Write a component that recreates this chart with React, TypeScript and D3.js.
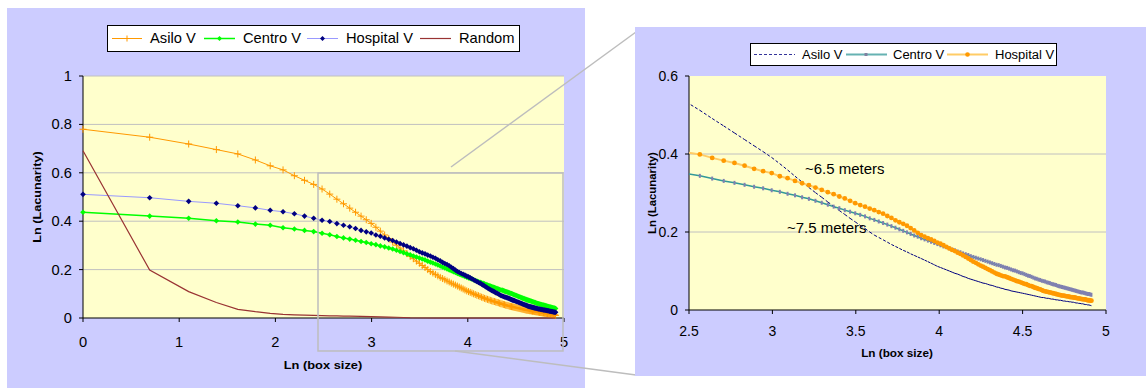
import React from "react";
import * as d3 from "d3";

// box sizes (categories); x = ln(box size)
const boxSizes: number[] = d3.range(1, 137);

const asiloV = [
  0.780,0.747,0.719,0.696,0.678,0.653,0.629,0.612,0.588,0.569,
  0.552,0.533,0.512,0.491,0.472,0.454,0.437,0.421,0.406,0.391,
  0.375,0.359,0.343,0.328,0.314,0.301,0.289,0.277,0.266,0.255,
  0.245,0.235,0.226,0.217,0.209,0.200,0.192,0.186,0.180,0.174,
  0.168,0.163,0.158,0.153,0.149,0.144,0.140,0.136,0.132,0.128,
  0.124,0.120,0.116,0.112,0.109,0.106,0.103,0.100,0.097,0.094,
  0.092,0.089,0.086,0.084,0.081,0.079,0.077,0.075,0.073,0.071,
  0.069,0.068,0.066,0.064,0.063,0.061,0.059,0.058,0.056,0.055,
  0.053,0.052,0.051,0.049,0.048,0.047,0.046,0.045,0.044,0.043,
  0.042,0.041,0.040,0.039,0.038,0.037,0.036,0.035,0.034,0.033,
  0.032,0.032,0.031,0.030,0.030,0.029,0.028,0.028,0.027,0.026,
  0.026,0.025,0.025,0.024,0.023,0.023,0.022,0.022,0.021,0.021,
  0.020,0.020,0.019,0.018,0.018,0.017,0.017,0.016,0.016,0.015,
  0.014,0.014,0.013,0.013,0.012,0.011,
];

const centroV = [
  0.437,0.421,0.412,0.402,0.397,0.388,0.383,0.373,0.368,0.362,
  0.357,0.350,0.344,0.337,0.331,0.326,0.321,0.316,0.312,0.307,
  0.303,0.298,0.294,0.289,0.285,0.280,0.275,0.270,0.265,0.261,
  0.256,0.252,0.248,0.244,0.240,0.235,0.231,0.227,0.223,0.219,
  0.215,0.211,0.207,0.203,0.199,0.195,0.191,0.188,0.184,0.181,
  0.178,0.175,0.172,0.169,0.166,0.163,0.161,0.158,0.155,0.153,
  0.150,0.148,0.145,0.143,0.141,0.138,0.136,0.134,0.132,0.130,
  0.128,0.126,0.124,0.122,0.120,0.118,0.116,0.115,0.113,0.111,
  0.109,0.108,0.106,0.104,0.102,0.101,0.099,0.097,0.095,0.094,
  0.092,0.090,0.088,0.087,0.085,0.083,0.081,0.080,0.078,0.077,
  0.075,0.074,0.073,0.071,0.070,0.069,0.067,0.066,0.065,0.064,
  0.062,0.061,0.060,0.059,0.058,0.057,0.056,0.055,0.054,0.053,
  0.052,0.051,0.050,0.049,0.048,0.047,0.046,0.045,0.045,0.044,
  0.043,0.042,0.041,0.041,0.040,0.039,
];

const hospitalV = [
  0.511,0.497,0.482,0.474,0.464,0.455,0.445,0.439,0.431,0.421,
  0.412,0.404,0.399,0.390,0.383,0.377,0.370,0.362,0.356,0.351,
  0.343,0.338,0.331,0.325,0.320,0.314,0.308,0.302,0.297,0.291,
  0.286,0.280,0.274,0.269,0.265,0.260,0.256,0.251,0.247,0.241,
  0.236,0.230,0.225,0.221,0.216,0.210,0.204,0.198,0.192,0.188,
  0.184,0.181,0.177,0.173,0.170,0.166,0.162,0.158,0.154,0.151,
  0.147,0.144,0.140,0.136,0.132,0.128,0.124,0.121,0.117,0.114,
  0.111,0.108,0.105,0.102,0.099,0.096,0.093,0.091,0.089,0.087,
  0.086,0.084,0.082,0.080,0.078,0.076,0.074,0.073,0.071,0.069,
  0.067,0.066,0.064,0.062,0.061,0.059,0.057,0.056,0.054,0.053,
  0.051,0.049,0.048,0.047,0.046,0.045,0.044,0.043,0.042,0.041,
  0.040,0.039,0.038,0.037,0.037,0.036,0.035,0.035,0.034,0.033,
  0.033,0.032,0.032,0.031,0.030,0.030,0.029,0.028,0.028,0.027,
  0.027,0.026,0.025,0.025,0.024,0.024,
];

const randomBoxSizes = [1,2,3,4,5,6,7,8,9,10,11,12,13,14,15,16,18,20,22,24,26,28,30,40,60,80,100,136];
const randomV = [0.691,0.198,0.109,0.064,0.036,0.026,0.019,0.015,0.013,0.012,0.011,0.010,0.009,0.009,0.008,0.008,0.007,0.006,0.005,0.004,0.003,0.002,0.001,0,0,0,0,0];

const leftXTicks = [0, 1, 2, 3, 4, 5];
const leftYTicks = [0, 0.2, 0.4, 0.6, 0.8, 1];
const rightXTicks = [2.5, 3, 3.5, 4, 4.5, 5];
const rightYTicks = [0, 0.2, 0.4, 0.6];

const FONT = "'Liberation Sans', Arial, Helvetica, sans-serif";

type Pt = { x: number; y: number };
const toPts = (sizes: number[], vals: number[]): Pt[] =>
  vals.map((v, i) => ({ x: Math.log(sizes[i]), y: v }));

function T(props: {
  x: number; y: number; children: React.ReactNode; size?: number; bold?: boolean;
  anchor?: "start" | "middle" | "end"; sx?: number; rotate?: number; fill?: string;
}) {
  const { x, y, children, size = 14, bold = false, anchor = "start", sx = 1.05, rotate = 0, fill = "#000" } = props;
  return (
    <text
      transform={`translate(${x},${y})${rotate ? ` rotate(${rotate})` : ""} scale(${sx},1)`}
      fontSize={size}
      fontWeight={bold ? "bold" : "normal"}
      textAnchor={anchor}
      fontFamily={FONT}
      fill={fill}
    >
      {children}
    </text>
  );
}

const plus = (x: number, y: number, r = 3.5) => `M${x - r},${y}h${2 * r}M${x},${y - r}v${2 * r}`;
const diamond = (x: number, y: number, r = 2.8) => `M${x},${y - r}l${r},${r}l${-r},${r}l${-r},${-r}z`;

export default function App() {
  const A = toPts(boxSizes, asiloV);
  const C = toPts(boxSizes, centroV);
  const Hs = toPts(boxSizes, hospitalV);
  const R = toPts(randomBoxSizes, randomV);

  // left chart scales
  const xL = d3.scaleLinear().domain([0, 5]).range([83, 564]);
  const yL = d3.scaleLinear().domain([0, 1]).range([318, 76]);
  const lineL = d3.line<Pt>().x((d) => xL(d.x)).y((d) => yL(d.y));

  // right chart scales
  const xR = d3.scaleLinear().domain([2.5, 5]).range([689, 1106]);
  const yR = d3.scaleLinear().domain([0, 0.6]).range([310, 76]);
  const lineR = d3.line<Pt>().x((d) => xR(d.x)).y((d) => yR(d.y));
  const inR = (p: Pt) => p.x >= 2.45;
  const AR = A.filter(inR), CR = C.filter(inR), HR = Hs.filter(inR);

  const grid = "#C0C0C0";

  return (
    <svg width={1146} height={389} style={{ position: "absolute", left: 0, top: 0, background: "#fff" }}>
      <defs>
        <clipPath id="clipR">
          <rect x={689} y={70} width={420} height={240} />
        </clipPath>
      </defs>

      {/* ---------- LEFT PANEL ---------- */}
      <rect x={7} y={8} width={578} height={380} fill="#CCCCFF" />
      <rect x={xL(0)} y={yL(1)} width={xL(5) - xL(0)} height={yL(0) - yL(1)} fill="#FFFFCC" />
      {leftYTicks.filter((t) => t > 0).map((t) => (
        <line key={t} x1={xL(0)} x2={xL(5)} y1={yL(t)} y2={yL(t)} stroke={grid} strokeWidth={1} />
      ))}
      {/* axes */}
      <line x1={xL(0)} x2={xL(0)} y1={yL(1)} y2={yL(0)} stroke="#000" strokeWidth={1} />
      <line x1={xL(0)} x2={xL(5)} y1={yL(0)} y2={yL(0)} stroke="#000" strokeWidth={1} />
      {leftYTicks.map((t) => (
        <g key={t}>
          <line x1={xL(0) - 4} x2={xL(0)} y1={yL(t)} y2={yL(t)} stroke="#000" />
          <T x={72} y={yL(t) + 5} anchor="end">{String(t)}</T>
        </g>
      ))}
      {leftXTicks.map((t) => (
        <g key={t}>
          <line x1={xL(t)} x2={xL(t)} y1={yL(0)} y2={yL(0) + 4} stroke="#000" />
          <T x={xL(t)} y={347} anchor="middle">{String(t)}</T>
        </g>
      ))}
      <T x={323} y={369} anchor="middle" size={11} bold sx={1.17}>Ln (box size)</T>
      <T x={41} y={197} anchor="middle" size={11} bold sx={1.15} rotate={-90}>Ln (Lacunarity)</T>

      {/* series left */}
      <path d={lineL(A) || ""} fill="none" stroke="#FF9900" strokeWidth={1} />
      {A.map((p, i) => (
        <path key={"a" + i} d={plus(xL(p.x), yL(p.y))} stroke="#FF9900" strokeWidth={1} fill="none" />
      ))}
      <path d={lineL(C) || ""} fill="none" stroke="#00FF00" strokeWidth={1.5} />
      {C.map((p, i) => (
        <path key={"c" + i} d={diamond(xL(p.x), yL(p.y))} fill="#00FF00" />
      ))}
      <path d={lineL(Hs) || ""} fill="none" stroke="#9999FF" strokeWidth={1} />
      {Hs.map((p, i) => (
        <path key={"h" + i} d={diamond(xL(p.x), yL(p.y))} fill="#000080" />
      ))}
      <path d={lineL(R) || ""} fill="none" stroke="#993333" strokeWidth={1.2} />

      {/* legend left */}
      <rect x={107.5} y={25.5} width={412} height={26} fill="#fff" stroke="#000" strokeWidth={1} />
      <line x1={112} x2={142} y1={38.5} y2={38.5} stroke="#FF9900" />
      <path d={plus(127, 38.5, 3)} stroke="#FF9900" />
      <T x={150} y={43}>Asilo V</T>
      <line x1={204} x2={235} y1={38.5} y2={38.5} stroke="#00FF00" strokeWidth={1.5} />
      <path d={diamond(219.5, 38.5, 2.5)} fill="#00FF00" />
      <T x={243} y={43}>Centro V</T>
      <line x1={307} x2={338} y1={38.5} y2={38.5} stroke="#9999FF" />
      <path d={diamond(322.5, 38.5, 2.5)} fill="#000080" />
      <T x={346} y={43}>Hospital V</T>
      <line x1={420} x2={451} y1={38.5} y2={38.5} stroke="#993333" strokeWidth={1.2} />
      <T x={459} y={43}>Random</T>

      {/* zoom box and connector lines */}
      <rect x={318} y={173} width={245} height={178} fill="none" stroke="#BDBDBD" strokeWidth={1.5} />
      <line x1={451} y1={167} x2={636} y2={32} stroke="#BDBDBD" strokeWidth={1.5} />
      <line x1={455} y1={351} x2={636} y2={375} stroke="#BDBDBD" strokeWidth={1.5} />

      {/* ---------- RIGHT PANEL ---------- */}
      <rect x={635} y={27} width={511} height={349} fill="#CCCCFF" />
      <rect x={xR(2.5)} y={yR(0.6)} width={xR(5) - xR(2.5)} height={yR(0) - yR(0.6)} fill="#FFFFCC" />
      {rightYTicks.filter((t) => t > 0 && t < 0.6).map((t) => (
        <line key={t} x1={xR(2.5)} x2={xR(5)} y1={yR(t)} y2={yR(t)} stroke={grid} strokeWidth={1} />
      ))}
      <line x1={xR(2.5)} x2={xR(2.5)} y1={yR(0.6)} y2={yR(0)} stroke="#000" />
      <line x1={xR(2.5)} x2={xR(5)} y1={yR(0)} y2={yR(0)} stroke="#000" />
      {rightYTicks.map((t) => (
        <g key={t}>
          <line x1={xR(2.5) - 4} x2={xR(2.5)} y1={yR(t)} y2={yR(t)} stroke="#000" />
          <T x={678} y={yR(t) + 5} anchor="end" sx={1.0}>{String(t)}</T>
        </g>
      ))}
      {rightXTicks.map((t) => (
        <g key={t}>
          <line x1={xR(t)} x2={xR(t)} y1={yR(0)} y2={yR(0) + 4} stroke="#000" />
          <T x={xR(t)} y={336} anchor="middle" sx={1.0}>{String(t)}</T>
        </g>
      ))}
      <T x={897} y={357} anchor="middle" size={10.5} bold sx={1.12}>Ln (box size)</T>
      <T x={656} y={193} anchor="middle" size={10.5} bold sx={1.08} rotate={-90}>Ln (Lacunarity)</T>

      <g clipPath="url(#clipR)">
        {/* dashed per segment, as the source program restarts the dash on each segment */}
        {AR.slice(1).map((p, i) => (
          <path key={"ar" + i} d={lineR([AR[i], p]) || ""} fill="none" stroke="#000080" strokeWidth={1} strokeDasharray="3,2" />
        ))}
        <path d={lineR(CR) || ""} fill="none" stroke="#339999" strokeWidth={1.5} />
        {CR.map((p, i) => (
          <rect key={"cr" + i} x={xR(p.x) - 1} y={yR(p.y) - 2} width={2} height={4} fill="#8080B0" />
        ))}
        <path d={lineR(HR) || ""} fill="none" stroke="#FFCC66" strokeWidth={2} />
        {HR.map((p, i) => (
          <circle key={"hr" + i} cx={xR(p.x)} cy={yR(p.y)} r={2.4} fill="#FF9900" />
        ))}
      </g>

      <T x={805} y={174} sx={1.07}>~6.5 meters</T>
      <T x={787} y={233} sx={1.07}>~7.5 meters</T>

      {/* legend right */}
      <rect x={750.5} y={43.5} width={306} height={22} fill="#fff" stroke="#000" strokeWidth={1} />
      <line x1={754} x2={795} y1={54.5} y2={54.5} stroke="#333399" strokeDasharray="3,2" strokeWidth={1.2} />
      <T x={802} y={59} size={12.5} sx={1.04}>Asilo V</T>
      <line x1={846} x2={887} y1={54.5} y2={54.5} stroke="#66B2B2" strokeWidth={2} />
      <rect x={864.5} y={53} width={3} height={3} fill="#8080A0" />
      <T x={893} y={59} size={12.5} sx={1.04}>Centro V</T>
      <line x1={947} x2={988} y1={54.5} y2={54.5} stroke="#FFCC66" strokeWidth={2} />
      <circle cx={967.5} cy={54.5} r={2.3} fill="#FF9900" />
      <T x={995} y={59} size={12.5} sx={1.04}>Hospital V</T>
    </svg>
  );
}
